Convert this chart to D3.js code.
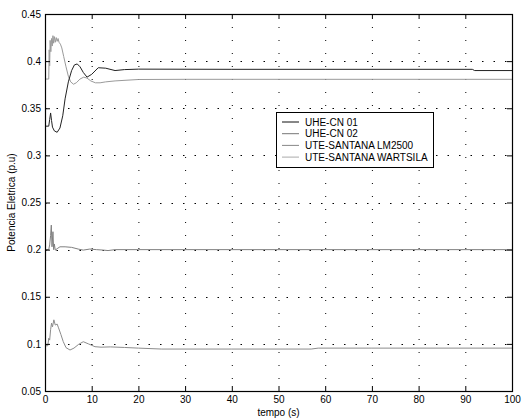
<!DOCTYPE html>
<html><head><meta charset="utf-8">
<script src="https://cdn.jsdelivr.net/npm/d3@7/dist/d3.min.js"></script>
<style>body{margin:0;background:#fff}svg{display:block}text{font-family:"Liberation Sans",Arial,sans-serif;font-size:10px;fill:#000}</style>
</head><body><svg id="c" width="532" height="418"></svg>
<script>
const seriesNames = ["UHE-CN 01","UHE-CN 02","UTE-SANTANA LM2500","UTE-SANTANA WARTSILA"];
const seriesColors = ["#222222","#9a9a9a","#808080","#8c8c8c"];
const legendColors = ["#111111","#777777","#888888","#aaaaaa"];
const tCN01 = [0,0.8,1.0,1.2,1.4,1.6,2.0,2.6,3.2,3.8,4.3,5.0,5.7,6.3,6.9,7.5,8.2,9.0,10.0,11.4,13.0,15.0,17.0,20.0,40,60,91.5,92,100];
const pCN01 = [0.331,0.331,0.338,0.345,0.337,0.330,0.326,0.3245,0.329,0.342,0.360,0.378,0.390,0.396,0.397,0.394,0.388,0.383,0.386,0.393,0.3925,0.390,0.391,0.3915,0.3913,0.3913,0.3913,0.390,0.390];
const tCN02 = [0,0.8,0.9,1.0,1.1,1.25,1.4,1.55,1.7,1.85,2.0,2.2,2.4,2.6,2.8,3.0,3.3,3.6,4.0,4.5,5.0,5.5,6.1,6.7,7.5,8.3,9.0,9.8,10.8,11.8,13,15,20,30,100];
const pCN02 = [0.381,0.381,0.412,0.395,0.422,0.410,0.424,0.416,0.427,0.419,0.426,0.420,0.425,0.421,0.424,0.420,0.418,0.414,0.405,0.394,0.384,0.378,0.3755,0.377,0.381,0.383,0.382,0.379,0.377,0.377,0.378,0.379,0.3805,0.3807,0.3807];
const tLM = [0,0.8,1.0,1.2,1.35,1.5,1.7,1.85,2.0,2.2,2.6,3.2,4.3,5.7,7.1,8.2,9.6,11,12.5,13.5,15,20,100];
const pLM = [0.2,0.2,0.205,0.215,0.226,0.203,0.219,0.200,0.206,0.1995,0.201,0.203,0.203,0.2024,0.2006,0.1995,0.2006,0.2,0.1995,0.199,0.2,0.2,0.2];
const tWA = [0,0.6,0.8,1.0,1.2,1.4,1.6,1.9,2.2,2.6,2.9,3.4,3.9,4.5,5.35,6.2,7.2,8.2,9.3,10.7,12,14,17,20,25,40,57,58.5,70,100];
const pWA = [0.098,0.098,0.106,0.104,0.115,0.122,0.118,0.1255,0.120,0.121,0.117,0.110,0.1025,0.096,0.0935,0.0955,0.0995,0.1023,0.100,0.097,0.0965,0.0968,0.0962,0.0955,0.0945,0.0945,0.0945,0.0955,0.0955,0.0955];
const xTicks = [0,10,20,30,40,50,60,70,80,90,100];
const yTicks = [0.05,0.1,0.15,0.2,0.25,0.3,0.35,0.4,0.45];
const xLabel = "tempo (s)";
const yLabel = "Potencia Eletrica (p.u)";

const L=45,R=512,T=14,B=391;
const svg=d3.select("#c");
const x=d3.scaleLinear().domain([0,100]).range([L,R]);
const y=d3.scaleLinear().domain([0.05,0.45]).range([B,T]);

// grid
const g=svg.append("g");
g.selectAll(".vg").data(xTicks.slice(1,-1)).enter().append("line")
 .attr("x1",d=>x(d)+0.5).attr("x2",d=>x(d)+0.5).attr("y1",T).attr("y2",B)
 .attr("stroke","#000").attr("stroke-width",1).attr("stroke-dasharray","1,12");
g.selectAll(".hg").data(yTicks.slice(1,-1)).enter().append("line")
 .attr("y1",d=>Math.round(y(d))+0.5).attr("y2",d=>Math.round(y(d))+0.5).attr("x1",L).attr("x2",R)
 .attr("stroke","#000").attr("stroke-width",1).attr("stroke-dasharray","1.5,10");

// lines
const data=[[tCN02,pCN02,1],[tLM,pLM,2],[tWA,pWA,3],[tCN01,pCN01,0]];
const line=d3.line().x(d=>x(d[0])).y(d=>y(d[1]));
data.forEach(([t,p,i])=>{
  svg.append("path").datum(t.map((v,k)=>[v,p[k]])).attr("d",line)
   .attr("fill","none").attr("stroke",seriesColors[i]).attr("stroke-width",1);
});

// axes
const ax=svg.append("g");
ax.append("g").attr("transform",`translate(0,${B})`).call(d3.axisBottom(x).tickValues(xTicks).tickSizeInner(-5).tickSizeOuter(0).tickPadding(5).tickFormat(d3.format("d")));
ax.append("g").attr("transform",`translate(0,${T})`).call(d3.axisTop(x).tickValues(xTicks).tickSizeInner(-5).tickSizeOuter(0).tickFormat(""));
ax.append("g").attr("transform",`translate(${L},0)`).call(d3.axisLeft(y).tickValues(yTicks).tickSizeInner(-5).tickSizeOuter(0).tickPadding(4).tickFormat(d=>String(+d.toFixed(2))));
ax.append("g").attr("transform",`translate(${R},0)`).call(d3.axisRight(y).tickValues(yTicks).tickSizeInner(-5).tickSizeOuter(0).tickFormat(""));
ax.selectAll(".domain").remove();
ax.selectAll("line").attr("stroke","#000");
ax.selectAll("text").style("font-family",'"Liberation Sans",Arial,sans-serif').style("font-size","10px").attr("fill","#000");
svg.append("rect").attr("x",L+0.5).attr("y",T+0.5).attr("width",R-L).attr("height",B-T).attr("fill","none").attr("stroke","#000").attr("stroke-width",1.2);

svg.append("text").attr("x",(L+R)/2).attr("y",416).attr("text-anchor","middle").text(xLabel);
svg.append("text").attr("transform",`translate(15,${(T+B)/2}) rotate(-90)`).attr("text-anchor","middle").text(yLabel);

// legend
const lg=svg.append("g");
lg.append("rect").attr("x",276.5).attr("y",112.5).attr("width",157).attr("height",55).attr("fill","#fff").attr("stroke","#000").attr("stroke-width",1);
seriesNames.forEach((n,i)=>{
  const yy=122+i*11.7;
  lg.append("line").attr("x1",282).attr("x2",299).attr("y1",yy).attr("y2",yy).attr("stroke",legendColors[i]).attr("stroke-width",1);
  lg.append("text").attr("x",305).attr("y",yy+3.5).text(n);
});
</script></body></html>
